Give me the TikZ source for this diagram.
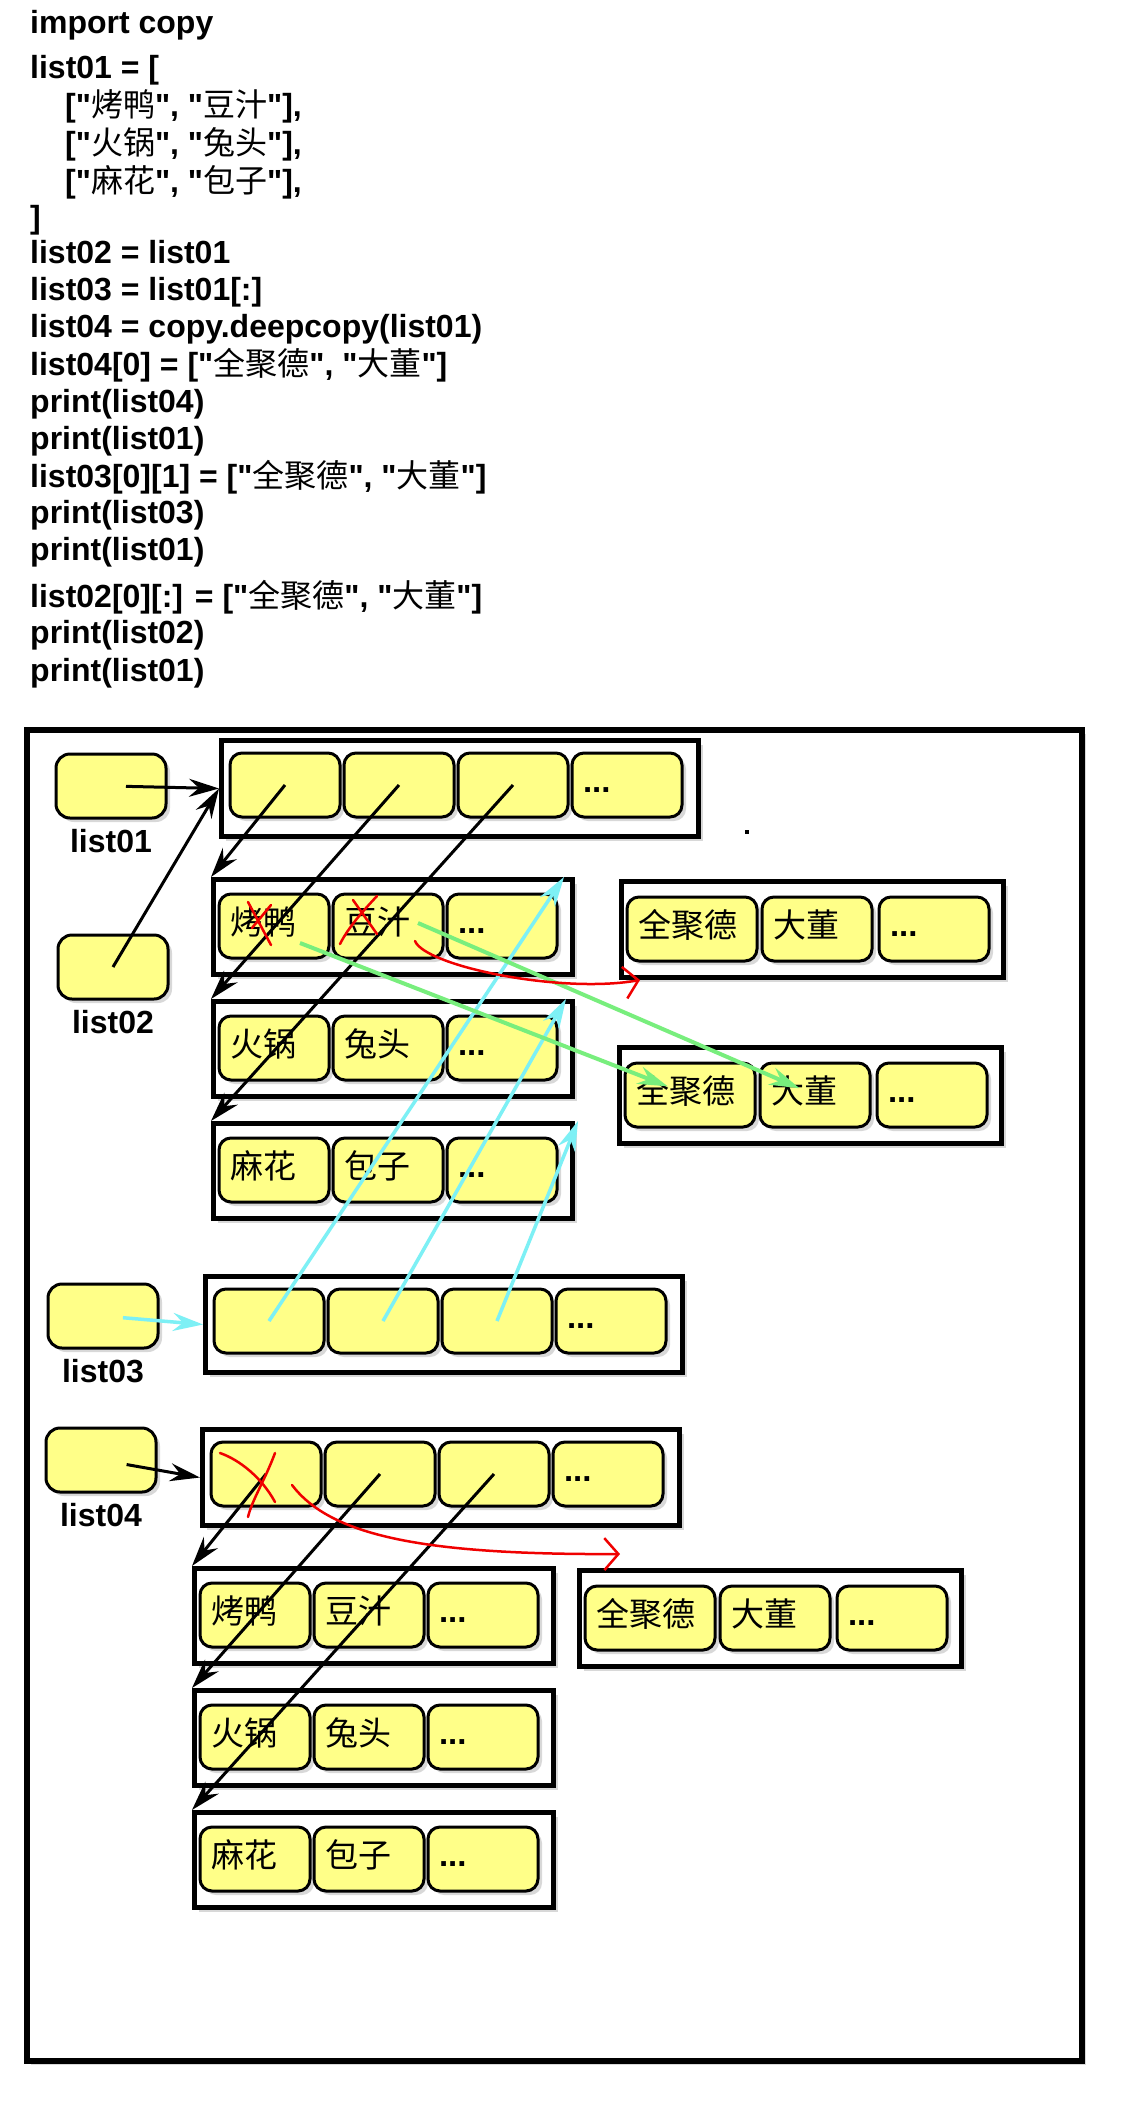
\documentclass[tikz,border=0pt]{standalone}
\usepackage{fontspec}
\setmainfont{Liberation Sans}
\newfontfamily\codefont{Liberation Sans}
\newfontfamily\cjkfont{Noto Sans CJK SC}
\newcommand{\zh}[1]{{\cjkfont\mdseries #1}}
\usetikzlibrary{arrows.meta,positioning,shadows}
\definecolor{yel}{RGB}{255,255,136}
\definecolor{cyanl}{RGB}{125,240,245}
\definecolor{greenl}{RGB}{120,238,125}
\definecolor{redl}{RGB}{240,0,0}

\begin{document}
\begin{tikzpicture}[x=1pt,y=-1pt,
    sh/.style={drop shadow={shadow xshift=4pt,shadow yshift=-4pt,opacity=.3}},
    codeline/.style={anchor=base west, inner sep=0pt, font=\fontsize{32}{38}\selectfont\codefont\bfseries},
    listbox/.style={draw, line width=5pt, fill=white, sh, anchor=north west, minimum width=477pt, minimum height=96pt},
    rowbox/.style={listbox, minimum width=359pt, minimum height=95pt},
    qbox/.style={listbox, minimum width=382pt},
    elem/.style={draw, line width=3pt, rounded corners=12pt, fill=yel, sh, text width=#1, inner xsep=11pt,
        minimum height=64pt, align=left, font=\fontsize{33}{38}\selectfont\bfseries, execute at begin node=\strut},
    elem/.default=88pt,
    varbox/.style={draw, line width=3pt, rounded corners=14pt, fill=yel, sh, minimum width=110pt, minimum height=64pt},
    lab/.style={inner sep=0pt, font=\fontsize{32}{38}\selectfont\bfseries},
    blk/.style={line width=3pt, -{Stealth[length=30pt,width=18pt,inset=10pt]}},
    cy/.style={blk, draw=cyanl, line width=3.5pt},
    gr/.style={blk, draw=greenl, line width=4pt},
    redmark/.style={draw=redl, line width=2.5pt, line cap=round},
    redarr/.style={redmark, -{Straight Barb[length=14pt,width=32pt]}}]
    \useasboundingbox (0,0) rectangle (1143,2119);
% code
    \foreach \x/\y/\txt [count=\kk] in {30/34/{import copy},30/79/{list01 = [},
        65/117/{["\zh{烤鸭}", "\zh{豆汁}"],},65/155/{["\zh{火锅}", "\zh{兔头}"],},65/193/{["\zh{麻花}", "\zh{包子}"],},
        30/229/{]},30/263/{list02 = list01},30/300/{list03 = list01[:]},30/337/{list04 = copy.deepcopy(list01)},
        30/375/{list04[0] = ["\zh{全聚德}", "\zh{大董}"]},30/412/{print(list04)},30/449/{print(list01)},
        30/487/{list03[0][1] = ["\zh{全聚德}", "\zh{大董}"]},30/523/{print(list03)},30/560/{print(list01)},
        30/607/{list02[0][:] = ["\zh{全聚德}", "\zh{大董}"]},30/643/{print(list02)},30/681/{print(list01)}}
        {\node[codeline] (code\kk) at (\x,\y) {\txt};}
% memory
    \node[draw, line width=6pt, fill=white, sh, anchor=north west, minimum width=1055pt, minimum height=1331pt] (frame) at (24,727) {};
    \fill (745,830) rectangle (749,834);
    \node[varbox] (v1) at (111,786) {};
    \node[lab, below=10pt of v1] (n1) {list01};
    \node[varbox] (v2) at (113,967) {};
    \node[lab, below=10pt of v2] (n2) {list02};
    \node[varbox] (v3) at (103,1316) {};
    \node[lab, below=10pt of v3] (n3) {list03};
    \node[varbox] (v4) at (101,1460) {};
    \node[lab, below=10pt of v4] (n4) {list04};
    \foreach \nm/\x/\y in {L1/219/738,L3/203/1274,L4/200/1427} {
        \node[listbox] (\nm) at (\x,\y) {};
        \foreach \i in {0,1,2} {\node[elem] (\nm-\i) at (\x+66+114*\i,\y+47) {};}
        \node[elem] (\nm-3) at (\x+408,\y+47) {...};}
    \foreach \fa/\fb [count=\rr from 0] in {烤鸭/豆汁,火锅/兔头,麻花/包子} {
        \foreach \nm/\x/\y in {T/211/877,D/192/1566} {
            \node[rowbox] (\nm\rr) at (\x,\y+122*\rr) {};
            \node[elem] (\nm\rr-0) at (\x+63,\y+122*\rr+49) {\zh{\fa}};
            \node[elem] (\nm\rr-1) at (\x+177,\y+122*\rr+49) {\zh{\fb}};
            \node[elem] (\nm\rr-2) at (\x+291,\y+122*\rr+49) {...};}}
    \foreach \nm/\x/\y in {QA/619/879,QB/617/1045,QC/577/1568} {
        \node[qbox] (\nm) at (\x,\y) {};
        \node[elem=108pt] (\nm-0) at (\x+73,\y+50) {\zh{全聚德}};
        \node[elem] (\nm-1) at (\x+198,\y+50) {\zh{大董}};
        \node[elem] (\nm-2) at (\x+315,\y+50) {...};}
% references
    \draw[blk, shorten <=15pt] (v1.center) -- (L1.west);
    \draw[blk] (v2.center) -- (L1.west);
    \draw[blk, shorten <=26pt] (v4.center) -- (L4.west);
    \foreach \i in {0,1,2} {
        \draw[blk] (L1-\i.center) -- (T\i.north west);
        \draw[blk] (L4-\i.center) -- (D\i.north west);}
    \draw[cy, shorten <=20pt] (v3.center) -- (L3.west);
    \foreach \i/\sx in {0/-11,1/-9,2/3} {\draw[cy] (L3-\i.center) -- ([xshift=\sx]T\i.north east);}
    \draw[gr, shorten >=24pt] ([shift={(26,17)}]T0-0.center) -- (QB-0.center);
    \draw[gr, shorten >=17pt] ([shift={(30,-3)}]T0-1.center) -- (QB-1.center);
% crossed out
    \draw[redmark] (248,902) -- (271,945);
    \draw[redmark] (271,905) -- (252,928);
    \draw[redmark] (353,900) -- (377,934);
    \draw[redmark] (377,896) .. controls (362,912) and (348,928) .. (340,944);
    \draw[redmark] (220,1453) .. controls (240,1460) and (262,1478) .. (275,1502);
    \draw[redmark] (275,1453) .. controls (265,1480) and (252,1500) .. (248,1517);
    \draw[redarr] ([shift={(27,15)}]T0-1.center) .. controls +(10,25) and +(-80,14) .. ([xshift=21]QA.south west);
    \draw[redarr] ([shift={(26,11)}]L4-0.center) .. controls +(38,50) and +(-200,1) .. ([shift={(43,-14)}]QC.north west);
\end{tikzpicture}
\end{document}
